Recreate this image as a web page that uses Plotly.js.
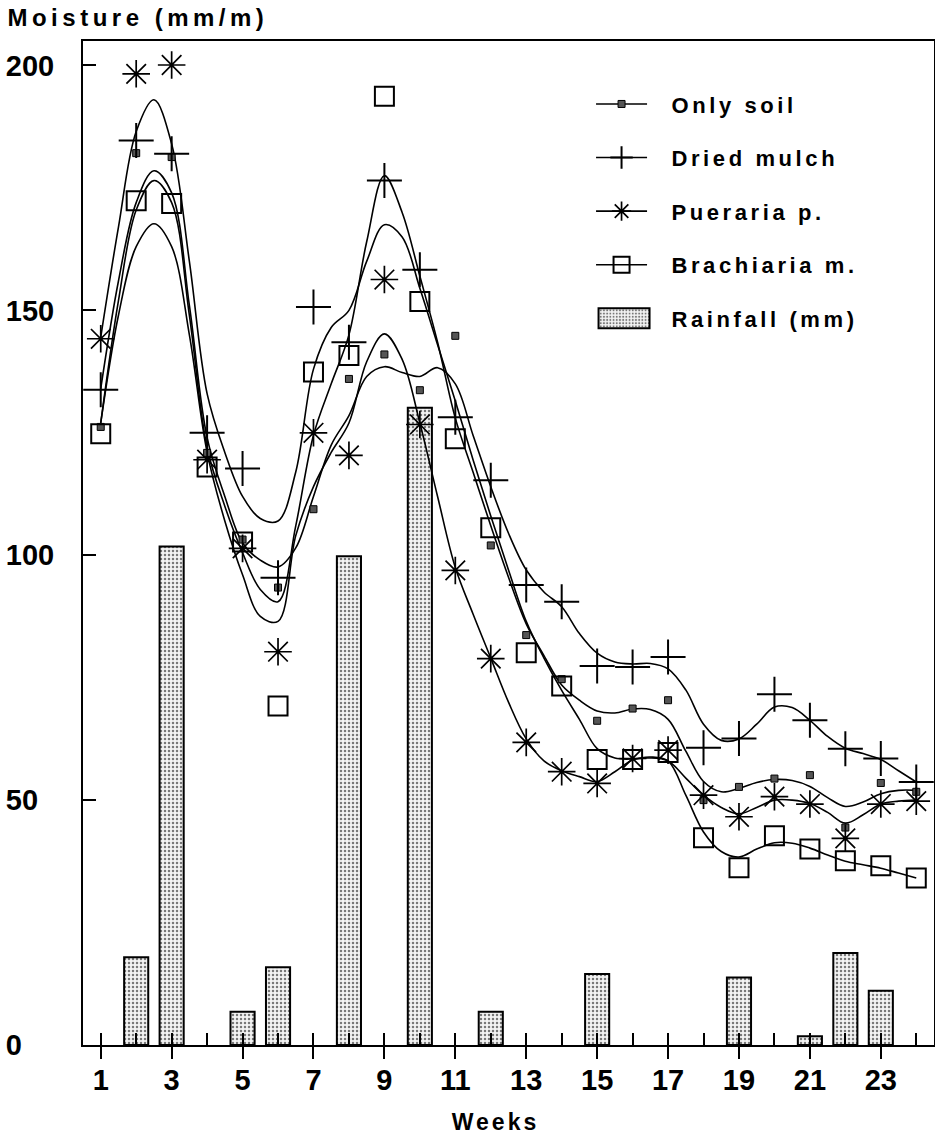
<!DOCTYPE html>
<html>
<head>
<meta charset="utf-8">
<script src="https://cdn.plot.ly/plotly-3.0.1.min.js"></script>
<style>
html, body { margin: 0; padding: 0; background: #fff; }
#chart { width: 935px; height: 1140px; }
.legendtext { letter-spacing: 3.6px !important; }
.gtitle { letter-spacing: 4.5px !important; }
.xtitle { letter-spacing: 3px !important; }
</style>
</head>
<body>
<div id="chart"></div>
<script>
// ---- data ----
const weeks = [1,2,3,4,5,6,7,8,9,10,11,12,13,14,15,16,17,18,19,20,21,22,23,24];
const onlySoil   = [126.2,182.1,181.3,120.9,103.2,93.4,109.4,136.0,141.0,133.7,144.8,102.0,83.7,74.7,66.2,68.7,70.4,50.0,52.7,54.4,55.1,44.4,53.5,51.7];
const driedMulch = [133.8,184.7,182.0,125.0,117.7,95.4,150.7,143.5,176.5,158.3,128.2,115.3,93.9,90.5,77.4,77.2,79.2,60.7,62.6,71.6,66.3,60.5,58.5,53.7];
const pueraria   = [144.2,198.3,200.1,119.5,101.4,80.3,125.0,120.4,156.3,126.7,96.9,78.9,61.8,55.8,53.4,58.5,60.2,51.0,46.6,50.7,49.2,42.2,49.2,49.8];
const brachiaria = [124.8,172.4,171.8,118.0,102.7,69.2,137.4,140.8,193.7,151.8,123.8,105.6,80.1,73.3,58.3,58.3,59.7,42.3,36.2,42.7,40.0,37.6,36.6,34.1];

const rainWeeks = [2,3,5,6,8,10,12,15,19,21,22,23];
const rainfall  = [17.9,101.8,6.8,15.9,99.8,130.1,6.8,14.5,13.8,1.8,18.8,11.1];

// smoothed curves as drawn in the reference, read at half-week steps
const fitWeeks = [1,1.5,2,2.5,3,3.5,4,4.5,5,5.5,6,6.5,7,7.5,8,8.5,9,9.5,10,10.5,11,11.5,12,12.5,13,13.5,14,14.5,15,15.5,16,16.5,17,17.5,18,18.5,19,19.5,20,20.5,21,21.5,22,22.5,23,23.5,24];
const fitSoil = [127,152,170.5,176.5,172,149,122,110,100.5,93, 90.5,106,124.5,135,145,164,177.5,170,157,143.5, 128,117,106,95.5,86,79.5,73.5,70.4,68.2,67.8, 68.6,68.5,66.5,60,53.8,51.7,52.4,53.6,54.2,54, 52.8,50.5,48.7,49.6,51.3,52,52];
const fitMulch = [134,156,172,178.5,174,151,124,112,102.5,99, 97.6,101.5,112,122.5,128.5,136.5,138.5,137.3,136.5,138.3, 135,124.5,114,104.5,97,92.5,89.5,84,80,78.2, 77.8,77.9,76.8,72.5,65.5,62.2,62.5,65.5,69,68.9, 66.3,63,60.6,59.5,58.3,56,53.7];
const fitPueraria = [127,149,163,167.7,163,145,121,107,96,87.5, 86.5,104,114,121,127,139.5,145.2,140,127,112, 97.5,88,79,70,62.5,58,56,54.8,53.8,55.8, 58.2,58.6,58,54.5,51,48.5,47.2,48.5,50,50, 49.3,47.5,45.3,47,49.2,49.8,50];
const fitBrachiaria = [144.5,167,186.5,193,184,160,133,121,112,107.5, 107,117,138,146.5,150,160,167.5,165,154.5,143, 131.5,119.5,108,97,86.5,79,72.4,66.5,60.5,58.6, 58.4,58.8,58,51,43.5,39.5,38.4,40,41.3,41.2, 40.2,38.8,37.5,36.8,36.1,35.1,34.1];

const xLabelWeeks = [1,3,5,7,9,11,13,15,17,19,21,23];
const xTickText = ['1','','3','','5','','7','','9','','11','','13','','15','','17','','19','','21','','23',''];
const yTickVals = [0,50,100,150,200];
const yTickText = ['0\u00a0\u00a0\u00a0\u00a0','50\u00a0\u00a0','100','150','200'];

// ---- drawing ----
const black = '#000000';
const FONT = 'Liberation Sans, Arial, Helvetica, sans-serif';
const pad = '\u00a0\u00a0';

const series = [
  {name:'Only soil', y:onlySoil, fit:fitSoil, grp:'soil', rank:1,
   marker:{symbol:'square', size:7, color:'#555555', line:{color:black, width:1}}},
  {name:'Dried mulch', y:driedMulch, fit:fitMulch, grp:'mulch', rank:2,
   marker:{symbol:'cross-thin-open', size:25, color:black, line:{color:black, width:2}}},
  {name:'Pueraria p.', y:pueraria, fit:fitPueraria, grp:'pueraria', rank:3,
   marker:{symbol:'asterisk-open', size:23, color:black, line:{color:black, width:1.7}}},
  {name:'Brachiaria m.', y:brachiaria, fit:fitBrachiaria, grp:'brach', rank:4,
   marker:{symbol:'square-open', size:19, color:black, line:{color:black, width:2}}}
];

const traces = [];
traces.push({
  type:'bar', x:rainWeeks, y:rainfall, width:0.68, name:pad + 'Rainfall (mm)',
  legend:'legend', legendgroup:'rain', legendrank:5, hoverinfo:'skip',
  marker:{color:'#f0f0f0', line:{color:black, width:2},
          pattern:{shape:'.', fgcolor:'#777777', bgcolor:'#f3f3f3', size:4, solidity:0.3}}
});
series.forEach(s => {
  traces.push({
    type:'scatter', mode:'lines', x:fitWeeks, y:s.fit, name:pad + s.name,
    legend:'legend', legendgroup:s.grp, legendrank:s.rank, hoverinfo:'skip',
    line:{color:black, width:1.6, shape:'spline', smoothing:1}
  });
});
series.forEach(s => {
  traces.push({
    type:'scatter', mode:'markers', x:weeks, y:s.y, name:'\u00a0',
    legend:'legend2', legendgroup:s.grp, legendrank:s.rank, hoverinfo:'skip',
    marker:s.marker, cliponaxis:false
  });
});
// empty trace so the overlaying tick axis gets its own subplot
traces.push({type:'scatter', mode:'markers', x:[], y:[], xaxis:'x2', yaxis:'y', showlegend:false, hoverinfo:'skip'});

const legendBase = {
  x:0.597, xref:'paper', xanchor:'left', y:0.958, yref:'paper', yanchor:'top',
  bgcolor:'rgba(0,0,0,0)', borderwidth:0, traceorder:'grouped', tracegroupgap:22,
  itemwidth:51
};

const layout = {
  width:935, height:1140,
  margin:{l:83, r:1, t:41, b:95, pad:0},
  paper_bgcolor:'#ffffff', plot_bgcolor:'#ffffff',
  font:{family:FONT, color:black},
  showlegend:true,
  title:{text:'Moisture (mm/m)', x:0.008, xref:'container', xanchor:'left',
         y:0.985, yref:'container', yanchor:'middle',
         font:{family:FONT, size:24, weight:'bold', color:black}},
  legend:Object.assign({}, legendBase, {font:{family:FONT, size:22, weight:'bold', color:black}}),
  legend2:Object.assign({}, legendBase, {font:{family:FONT, size:22, weight:'bold', color:black}}),
  xaxis:{range:[0.5,24.5], tickmode:'array', tickvals:weeks, ticktext:xTickText,
         ticks:'inside', ticklen:12, tickwidth:2, tickcolor:black,
         showline:true, linewidth:2, linecolor:black, mirror:true,
         showgrid:false, zeroline:false, fixedrange:true,
         tickfont:{family:FONT, size:29, weight:'bold', color:black}, ticklabelstandoff:8,
         title:{text:'Weeks', font:{family:FONT, size:23, weight:'bold', color:black}, standoff:19},
         automargin:false},
  xaxis2:{overlaying:'x', anchor:'y', side:'bottom', range:[0.5,24.5],
          tickmode:'array', tickvals:xLabelWeeks, ticks:'outside', ticklen:13, tickwidth:2, tickcolor:black,
          showticklabels:false, showline:false, showgrid:false, zeroline:false, fixedrange:true},
  yaxis:{range:[0,205], tickmode:'array', tickvals:yTickVals, ticktext:yTickText,
         ticks:'inside', ticklen:13, tickwidth:2, tickcolor:black,
         showline:true, linewidth:2, linecolor:black, mirror:true,
         showgrid:false, zeroline:false, fixedrange:true,
         tickfont:{family:FONT, size:29, weight:'bold', color:black}, ticklabelstandoff:21,
         automargin:false}
};

Plotly.newPlot('chart', traces, layout, {staticPlot:true, displayModeBar:false}).then(gd => {
  // widen the rainfall legend swatch to the long box used in the reference legend
  gd.querySelectorAll('g.legend g.traces').forEach(item => {
    const t = item.querySelector('text.legendtext');
    if (t && t.textContent.indexOf('Rainfall') >= 0) {
      item.querySelectorAll('g.legendpoints path').forEach(p => p.setAttribute('d', 'M28,10H-23V-10H28Z'));
    }
  });
  // the reference sets the axis title slightly left of the plot centre
  const xt = gd.querySelector('text.xtitle');
  if (xt) { xt.setAttribute('x', String(parseFloat(xt.getAttribute('x')) - 13)); }
});
</script>
</body>
</html>
